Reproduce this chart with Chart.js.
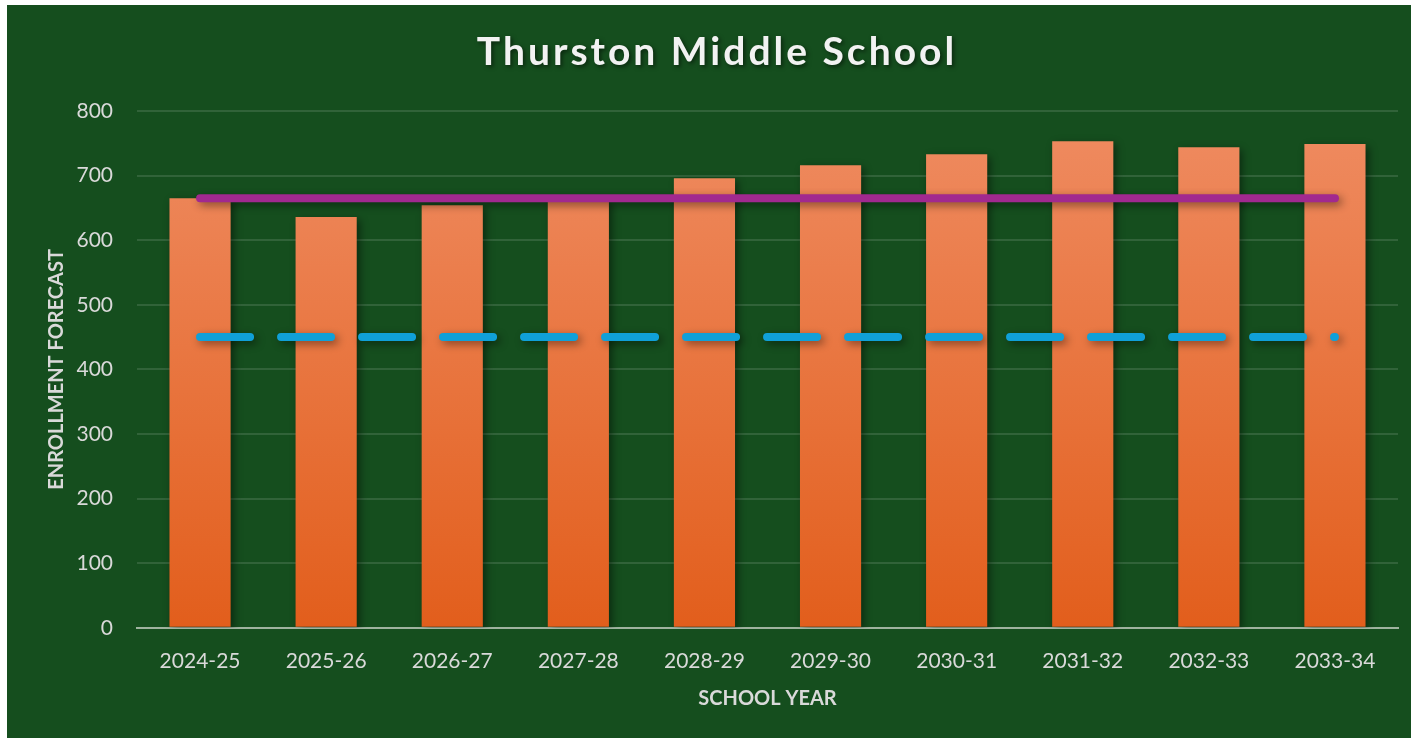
<!DOCTYPE html>
<html>
<head>
<meta charset="utf-8">
<script src="https://cdn.jsdelivr.net/npm/chart.js@4.4.0/dist/chart.umd.min.js"></script>
<style>
  html, body { margin: 0; padding: 0; background: #ffffff; }
  #wrap { position: absolute; left: 7px; top: 5px; width: 1404px; height: 733px; background: #154e1e; }
</style>
</head>
<body>
<div id="wrap"><canvas id="myChart"></canvas></div>
<script>
// Datos del gráfico
const chartTitle = 'Thurston Middle School';
const schoolYears = ['2024-25', '2025-26', '2026-27', '2027-28', '2028-29', '2029-30', '2030-31', '2031-32', '2032-33', '2033-34'];
const enrollment = [665, 636, 654, 662, 696, 716, 733, 753, 744, 749];
const capacityLine = [665, 665, 665, 665, 665, 665, 665, 665, 665, 665];
const minimumLine = [450, 450, 450, 450, 450, 450, 450, 450, 450, 450];
const yTicks = [0, 100, 200, 300, 400, 500, 600, 700, 800];

// Sombra para barras y líneas
const shadowPlugin = {
    id: 'shadow',
    beforeDatasetDraw(chart) {
        const ctx = chart.ctx;
        ctx.save();
        ctx.shadowColor = 'rgba(0, 0, 0, 0.45)';
        ctx.shadowBlur = 8;
        ctx.shadowOffsetX = 3;
        ctx.shadowOffsetY = 3;
    },
    afterDatasetDraw(chart) {
        chart.ctx.restore();
    }
};

// Título con espaciado de letras y sombra
const titlePlugin = {
    id: 'spacedTitle',
    afterDraw(chart) {
        const ctx = chart.ctx;
        ctx.save();
        ctx.font = 'bold 39px Lato';
        ctx.letterSpacing = '3px';
        ctx.fillStyle = '#f2f2f2';
        ctx.textAlign = 'center';
        ctx.textBaseline = 'middle';
        ctx.shadowColor = 'rgba(0, 0, 0, 0.5)';
        ctx.shadowBlur = 4;
        ctx.shadowOffsetX = 2;
        ctx.shadowOffsetY = 2;
        ctx.fillText(chartTitle, chart.width / 2 + 8, 47);
        ctx.restore();
    }
};

function barGradient(context) {
    const area = context.chart.chartArea;
    if (!area) return '#ee7a40';
    const g = context.chart.ctx.createLinearGradient(0, area.bottom, 0, area.top);
    g.addColorStop(0, '#e25e1c');
    g.addColorStop(1, '#ef8c62');
    return g;
}

const ctx = document.getElementById('myChart').getContext('2d');
new Chart(ctx, {
    data: {
        labels: schoolYears,
        datasets: [
            {
                type: 'line',
                label: 'Capacity',
                data: capacityLine,
                borderColor: '#a1298f',
                borderWidth: 8,
                borderCapStyle: 'round',
                pointRadius: 0,
                order: 0
            },
            {
                type: 'line',
                label: 'Minimum',
                data: minimumLine,
                borderColor: '#10a0d8',
                borderWidth: 8,
                borderCapStyle: 'round',
                borderDash: [50, 31],
                pointRadius: 0,
                order: 1
            },
            {
                type: 'bar',
                label: 'Enrollment',
                data: enrollment,
                backgroundColor: barGradient,
                barPercentage: 0.485,
                categoryPercentage: 1,
                order: 2
            }
        ]
    },
    options: {
        responsive: true,
        maintainAspectRatio: false,
        animation: false,
        layout: { padding: { left: 30, right: 13, top: 106, bottom: 23 } },
        plugins: {
            legend: { display: false },
            tooltip: { enabled: false },
            title: { display: false }
        },
        scales: {
            x: {
                grid: { display: false },
                border: { color: '#9fb39f', width: 2 },
                ticks: { color: '#d9d9d9', font: { family: 'Lato', size: 21 }, padding: 13 },
                title: { display: true, text: 'SCHOOL YEAR', color: '#d9d9d9', font: { family: 'Lato', size: 20, weight: 'bold' }, padding: { top: 0, bottom: 4 } }
            },
            y: {
                min: 0,
                max: 800,
                afterBuildTicks: axis => { axis.ticks = yTicks.map(v => ({ value: v })); },
                afterFit: scale => { scale.width = 100; },
                grid: { color: 'rgba(255, 255, 255, 0.12)', lineWidth: 2, drawTicks: false },
                border: { display: false },
                ticks: { color: '#d9d9d9', font: { family: 'Lato', size: 21 }, padding: 24 },
                title: { display: true, text: 'ENROLLMENT FORECAST', color: '#d9d9d9', font: { family: 'Lato', size: 20, weight: 'bold' }, padding: { top: 8, bottom: 7 } }
            }
        }
    },
    plugins: [shadowPlugin, titlePlugin]
});
</script>
</body>
</html>
